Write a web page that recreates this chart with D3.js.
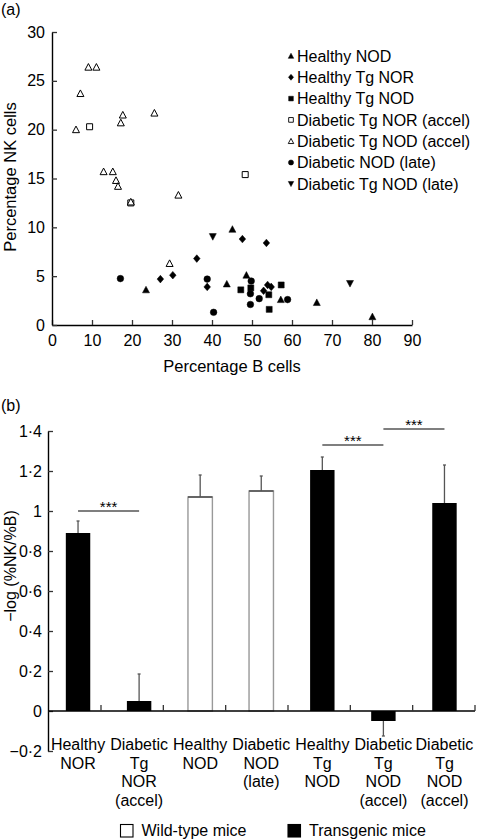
<!DOCTYPE html>
<html>
<head>
<meta charset="utf-8">
<script src="https://cdn.jsdelivr.net/npm/d3@7"></script>
<style>
  html, body { margin: 0; padding: 0; background: #fff; }
  svg { display: block; font-family: "Liberation Sans", Arial, Helvetica, sans-serif; }
</style>
</head>
<body>
<svg id="chart" width="477" height="840"></svg>
<script>
// ---------- DATA: panel (a) scatter ----------
const scatterSeriesNames = ["Healthy NOD", "Healthy Tg NOR", "Healthy Tg NOD",
  "Diabetic Tg NOR (accel)", "Diabetic Tg NOD (accel)", "Diabetic NOD (late)", "Diabetic Tg NOD (late)"];
const healthyNOD = [[23.5,3.6],[45.1,9.8],[43.7,4.2],[48.6,5.1],[57.2,2.6],[66.2,2.3],[80.1,0.85]];
const healthyTgNOR = [[27.1,4.7],[30.2,5.1],[36.2,6.8],[47.6,8.8],[53.6,8.4],[38.8,3.9],[52.9,3.5],[53.9,4.1],[54.8,3.9]];
const healthyTgNOD = [[47.2,3.6],[49.7,3.8],[54.2,3.1],[54.3,1.6],[57.3,4.1]];
const diabeticTgNORaccel = [[9.4,20.3],[19.7,12.5],[48.3,15.4]];
const diabeticTgNODaccel = [[9.1,26.4],[11.1,26.4],[7.1,23.7],[17.7,21.5],[25.6,21.7],[17.2,20.7],[6.0,20.0],
  [12.9,15.7],[15.2,15.7],[16.0,14.8],[16.5,14.2],[19.7,12.6],[31.6,13.3],[29.4,6.3]];
const diabeticNODlate = [[17.1,4.75],[38.8,4.7],[40.4,1.3],[49.8,4.5],[49.6,3.2],[49.6,2.1],[51.8,2.7],[58.9,2.6]];
const diabeticTgNODlate = [[40.2,9.05],[74.5,4.25]];
const scatterXTicks = [0,10,20,30,40,50,60,70,80,90];
const scatterYTicks = [0,5,10,15,20,25,30];

// ---------- DATA: panel (b) bars ----------
const barCategories = [["Healthy","NOR"],["Diabetic","Tg","NOR","(accel)"],["Healthy","NOD"],
  ["Diabetic","NOD","(late)"],["Healthy","Tg","NOD"],["Diabetic","Tg","NOD","(accel)"],["Diabetic","Tg","NOD","(accel)"]];
const barValues = [0.89, 0.05, 1.07, 1.10, 1.205, -0.05, 1.04];
const barErrors = [0.06, 0.135, 0.11, 0.075, 0.065, 0.075, 0.19];
const barGroups = ["tg","tg","wt","wt","tg","tg","tg"];
const sigPairs = [[0,1,1.0],[4,5,1.33],[5,6,1.41]];
const barYTicks = [-0.2,0,0.2,0.4,0.6,0.8,1.0,1.2,1.4];
const legendLabels = ["Wild-type mice","Transgenic mice"];

// ---------- rendering ----------
const svg = d3.select("#chart");
const FS = 16;

function shapePath(type, s) {
  const p = d3.path();
  if (type === "triUp") {
    p.moveTo(0,-3.6*s); p.lineTo(3.5*s,3.0*s); p.lineTo(-3.5*s,3.0*s); p.closePath();
  } else if (type === "triDown") {
    p.moveTo(0,3.6*s); p.lineTo(3.5*s,-3.0*s); p.lineTo(-3.5*s,-3.0*s); p.closePath();
  } else if (type === "square") {
    p.rect(-3*s,-3*s,6*s,6*s);
  } else if (type === "circle") {
    p.arc(0,0,3.3*s,0,2*Math.PI); p.closePath();
  } else if (type === "diamond") {
    p.moveTo(0,-3.8*s); p.lineTo(3.3*s,0); p.lineTo(0,3.8*s); p.lineTo(-3.3*s,0); p.closePath();
  }
  return p.toString();
}
const seriesData = [healthyNOD, healthyTgNOR, healthyTgNOD, diabeticTgNORaccel, diabeticTgNODaccel, diabeticNODlate, diabeticTgNODlate];
const seriesShape = ["triUp","diamond","square","square","triUp","circle","triDown"];
const seriesFilled = [true,true,true,false,false,true,true];

// ---- Panel (a)
const xS = d3.scaleLinear().domain([0,90]).range([52,412]);
const yS = d3.scaleLinear().domain([0,30]).range([325,32]);
const gA = svg.append("g");

gA.append("text").attr("x",1).attr("y",15).attr("font-size",FS).text("(a)");

const xAxisA = d3.axisBottom(xS).tickValues(scatterXTicks).tickSizeInner(-5).tickSizeOuter(0).tickPadding(10);
const gxa = gA.append("g").attr("transform","translate(0,325)").call(xAxisA);
const yAxisA = d3.axisLeft(yS).tickValues(scatterYTicks).tickSizeInner(-5).tickSizeOuter(0).tickPadding(7);
const gya = gA.append("g").attr("transform","translate(52,0)").call(yAxisA);
[gxa, gya].forEach(g => {
  g.selectAll("path.domain").attr("stroke","#000").attr("stroke-width",1.4);
  g.selectAll(".tick line").attr("stroke","#333").attr("stroke-width",1.3);
  g.selectAll(".tick text").attr("font-size",FS).attr("fill","#000")
    .attr("font-family","'Liberation Sans', Arial, Helvetica, sans-serif");
});

gA.append("text").attr("x",232).attr("y",372).attr("text-anchor","middle").attr("font-size",16.5).text("Percentage B cells");
gA.append("text").attr("transform","translate(16,177) rotate(-90)").attr("text-anchor","middle").attr("font-size",16.5).text("Percentage NK cells");

seriesData.forEach((data, i) => {
  gA.append("g").selectAll("path").data(data).join("path")
    .attr("d", shapePath(seriesShape[i], 1))
    .attr("transform", d => `translate(${xS(d[0])},${yS(d[1])})`)
    .attr("fill", seriesFilled[i] ? "#000" : "#fff")
    .attr("stroke", "#000").attr("stroke-width", seriesFilled[i] ? 0.5 : 1);
});

const legA = gA.append("g");
scatterSeriesNames.forEach((name, i) => {
  const cy = 56 + i*21.3;
  legA.append("path").attr("d", shapePath(seriesShape[i], 0.78))
    .attr("transform", `translate(291,${cy})`)
    .attr("fill", seriesFilled[i] ? "#000" : "#fff")
    .attr("stroke","#000").attr("stroke-width", seriesFilled[i] ? 0.5 : 0.9);
  legA.append("text").attr("x",297).attr("y",cy+5.8).attr("font-size",FS).text(name);
});

// ---- Panel (b)
const xB = d3.scaleBand().domain(d3.range(barValues.length)).range([47.5,475]).paddingInner(0.6).paddingOuter(0.3);
const yB = d3.scaleLinear().domain([-0.2,1.4]).range([751,431]);
const tickX = d3.scaleLinear().domain([1,barValues.length]).range([101,475]);
const gB = svg.append("g");
gB.append("text").attr("x",1).attr("y",411).attr("font-size",FS).text("(b)");

const fmt = v => {
  if (Math.abs(v) < 1e-9) return "0";
  let s = d3.format(".1f")(Math.abs(v)).replace(".","·");
  if (s.endsWith("·0")) s = s.slice(0,-2);
  return (v < 0 ? "\u2212" : "") + s;
};

barValues.forEach((v,i) => {
  const x0 = xB(i), w = xB.bandwidth();
  const yTop = yB(Math.max(v,0)), yBot = yB(Math.min(v,0));
  if (barGroups[i] === "tg") {
    gB.append("rect").attr("x",x0).attr("y",yTop).attr("width",w).attr("height",yBot-yTop).attr("fill","#000");
  } else {
    gB.append("rect").attr("x",x0).attr("y",yTop).attr("width",w).attr("height",yBot-yTop)
      .attr("fill","#fff").attr("stroke","#999").attr("stroke-width",1.4);
    gB.append("line").attr("x1",x0).attr("x2",x0+w).attr("y1",yTop).attr("y2",yTop).attr("stroke","#444").attr("stroke-width",1.4);
  }
  const cx = x0 + w/2;
  const yStart = v >= 0 ? yTop : yBot;
  const yEnd = yB(v >= 0 ? v + barErrors[i] : v - barErrors[i]);
  gB.append("line").attr("x1",cx).attr("x2",cx).attr("y1",yStart).attr("y2",yEnd).attr("stroke","#555").attr("stroke-width",1.3);
  gB.append("line").attr("x1",cx-1.5).attr("x2",cx+1.5).attr("y1",yEnd).attr("y2",yEnd).attr("stroke","#555").attr("stroke-width",1.3);
});

const yAxisB = d3.axisLeft(yB).tickValues(barYTicks).tickSizeInner(-5).tickSizeOuter(0).tickPadding(6).tickFormat(fmt);
const gyb = gB.append("g").attr("transform","translate(48,0)").call(yAxisB);
gyb.selectAll("path.domain").attr("stroke","#000").attr("stroke-width",1.4);
gyb.selectAll(".tick line").attr("stroke","#333").attr("stroke-width",1.3);
gyb.selectAll(".tick text").attr("font-size",FS).attr("fill","#000").attr("font-family","'Liberation Sans', Arial, Helvetica, sans-serif");

gB.append("line").attr("x1",48).attr("x2",475).attr("y1",yB(0)).attr("y2",yB(0)).attr("stroke","#000").attr("stroke-width",1.4);
gB.append("g").selectAll("line").data(d3.range(1,barValues.length+1)).join("line")
  .attr("x1",d=>tickX(d)).attr("x2",d=>tickX(d)).attr("y1",yB(0)).attr("y2",yB(0)-6)
  .attr("stroke","#333").attr("stroke-width",1.3);

barCategories.forEach((lines,i) => {
  const t = gB.append("text").attr("text-anchor","middle").attr("font-size",FS);
  lines.forEach((ln,j) => {
    t.append("tspan").attr("x", xB(i)+xB.bandwidth()/2).attr("y", 750 + j*18.7).text(ln);
  });
});

sigPairs.forEach(([a,b,lvl]) => {
  const x1 = xB(a)+xB.bandwidth()/2, x2 = xB(b)+xB.bandwidth()/2;
  gB.append("line").attr("x1",x1).attr("x2",x2).attr("y1",yB(lvl)).attr("y2",yB(lvl)).attr("stroke","#000").attr("stroke-width",1.2);
  gB.append("text").attr("x",(x1+x2)/2).attr("y",yB(lvl)+1).attr("text-anchor","middle").attr("font-size",15).text("***");
});

gB.append("text").attr("transform","translate(16,566) rotate(-90)").attr("text-anchor","middle").attr("font-size",16).text("\u2212log (%NK/%B)");

const legB = gB.append("g");
[[120,"wt"],[287.5,"tg"]].forEach(([lx,grp],i) => {
  legB.append("rect").attr("x",lx+0.5).attr("y",824.5).attr("width",12.5).attr("height",12.5)
    .attr("fill", grp === "tg" ? "#000" : "#fff").attr("stroke","#000").attr("stroke-width",1.1);
  legB.append("text").attr("x", lx + 21.5).attr("y",836).attr("font-size",FS).text(legendLabels[i]);
});
</script>
</body>
</html>
